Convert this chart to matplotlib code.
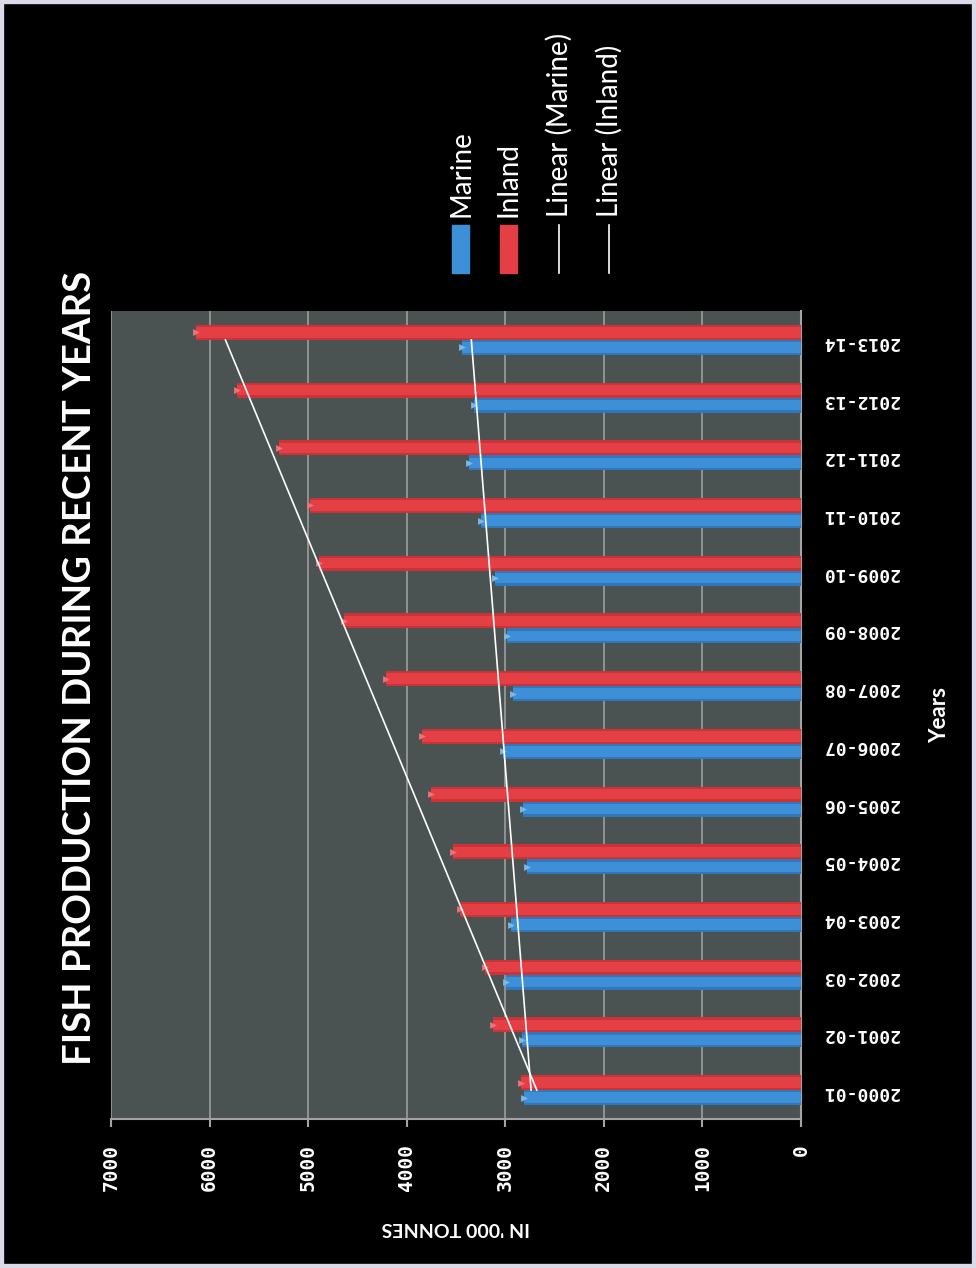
import matplotlib.pyplot as plt
import matplotlib.patches as mpatches
import matplotlib.lines as mlines
import numpy as np

# fish production, '000 tonnes (chart is drawn rotated)
years = ["2000-01", "2001-02", "2002-03", "2003-04", "2004-05", "2005-06", "2006-07",
         "2007-08", "2008-09", "2009-10", "2010-11", "2011-12", "2012-13", "2013-14"]
marine = [2811, 2830, 2990, 2941, 2779, 2816, 3024, 2920, 2978, 3104, 3250, 3372, 3321, 3443]
inland = [2845, 3126, 3210, 3458, 3526, 3756, 3845, 4207, 4638, 4894, 4981, 5295, 5719, 6136]

W, H = 976, 1268
red, red_edge = '#E33F44', '#CC3337'
blue, blue_edge = '#3D8FD8', '#2F78BC'
txt_font = ['Lato', 'DejaVu Sans']
num_font = ['DejaVu Sans Mono']

fig = plt.figure(figsize=(W / 100, H / 100), dpi=100, facecolor='black')
ax = fig.add_axes([111 / W, 1 - 1119 / H, 690 / W, 808 / H])
ax.set_facecolor('#4B5352')

y = np.arange(len(years))
# darker rim + lighter centre, a hint of the glossy look
ax.barh(y + 0.13, inland, height=0.26, color=red_edge, zorder=3)
ax.barh(y + 0.13, inland, height=0.18, color=red, zorder=3)
ax.barh(y - 0.13, marine, height=0.26, color=blue_edge, zorder=3)
ax.barh(y - 0.13, marine, height=0.18, color=blue, zorder=3)
ax.scatter(inland, y + 0.13, marker='>', s=24, color='#EE7376', zorder=3, linewidths=0)
ax.scatter(marine, y - 0.13, marker='>', s=24, color='#7DB8EA', zorder=3, linewidths=0)

# linear trendlines
for vals in (marine, inland):
    k, b = np.polyfit(y, vals, 1)
    ax.plot(k * y + b, y, color='white', lw=1.2, zorder=4)

ax.set_xlim(7000, 0)
ax.set_ylim(-0.5, len(years) - 0.5)
ax.xaxis.grid(True, color='#A4A4A4', lw=1.1)
ax.set_axisbelow(True)
for s in ('left', 'top'):
    ax.spines[s].set_visible(False)
for s in ('right', 'bottom'):
    ax.spines[s].set_color('#A4A4A4')
    ax.spines[s].set_linewidth(1.5)

ax.yaxis.tick_right()
ax.set_yticks(y)
ax.set_yticklabels(years, rotation=180, color='white', fontsize=13,
                   family=num_font, fontweight='bold')
ax.tick_params(axis='y', length=0, pad=16)

ax.set_xticks(range(0, 8000, 1000))
ax.set_xticklabels([str(v) for v in range(0, 8000, 1000)], rotation=90,
                   color='white', fontsize=14, family=num_font, fontweight='bold')
ax.tick_params(axis='x', length=6, width=1.5, color='#A4A4A4', pad=12)

ax.set_xlabel("IN '000 TONNES", rotation=180, color='white', fontsize=14,
              fontweight='bold', family=txt_font, va='center', ha='center')
ax.xaxis.set_label_coords(0.5, ((1 - 1228 / H) - (1 - 1119 / H)) / (808 / H))
ax.yaxis.set_label_position('right')
ax.set_ylabel("Years", rotation=90, color='white', fontsize=16,
              fontweight='bold', family=txt_font, va='center', ha='center')
ax.yaxis.set_label_coords((940 - 111) / 690, 0.5)

fig.text(80 / W, 1 - 668 / H, "FISH PRODUCTION DURING RECENT YEARS", rotation=90,
         ha='center', va='center', color='white', fontsize=27.5, fontweight='bold',
         family=txt_font)

# legend, drawn by hand because it is rotated
leg = [("Marine", blue, 'patch', 461), ("Inland", red, 'patch', 509),
       ("Linear (Marine)", 'white', 'line', 559), ("Linear (Inland)", 'white', 'line', 609)]
for label, c, kind, px in leg:
    if kind == 'patch':
        fig.add_artist(mpatches.Rectangle(((px - 9) / W, 1 - 273 / H), 17 / W, 48 / H,
                                          transform=fig.transFigure, color=c))
    else:
        fig.add_artist(mlines.Line2D([px / W, px / W], [1 - 273 / H, 1 - 225 / H],
                                     transform=fig.transFigure, color=c, lw=1.2))
    fig.text(px / W, 1 - 217 / H, label, rotation=90, ha='center', va='bottom',
             color='white', fontsize=20, family=txt_font)

fig.add_artist(mpatches.Rectangle((0, 0), 1, 1, transform=fig.transFigure,
                                  fill=False, edgecolor='#DCDAE6', lw=6))

plt.savefig('out.png', dpi=100, facecolor='black')
